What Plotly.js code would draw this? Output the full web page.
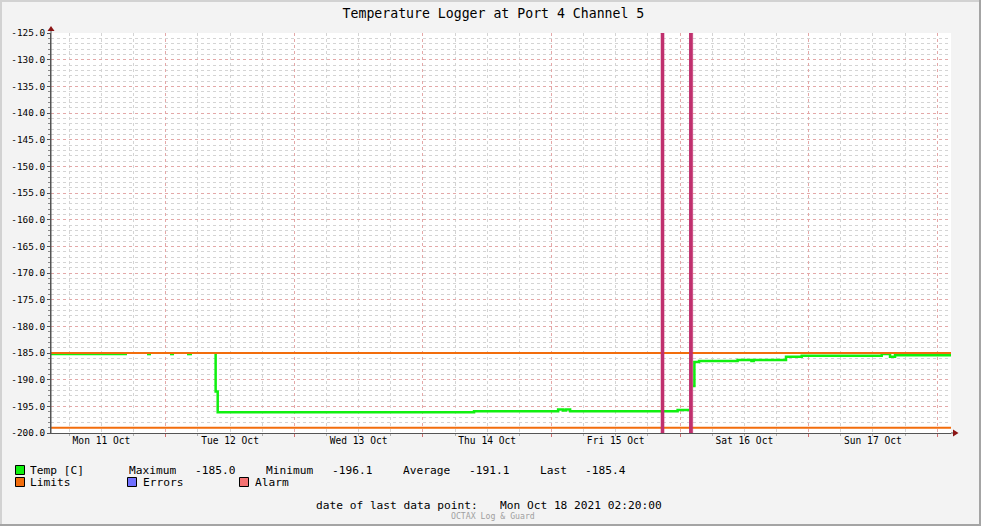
<!DOCTYPE html>
<html>
<head>
<meta charset="utf-8">
<script src="https://cdn.plot.ly/plotly-3.0.1.min.js"></script>
<style>html,body{margin:0;padding:0;background:#F3F3F3;}#chart{width:981px;height:526px;}</style>
</head>
<body>
<div id="chart"></div>
<script>
// ---- data ----
const xStart = '2021-10-11 02:35';
const xEnd = '2021-10-18 02:35';
const tempTime = [
  '2021-10-11 02:35','2021-10-11 16:46','2021-10-11 16:50',
  '2021-10-11 20:30','2021-10-11 21:15','2021-10-11 21:20',
  '2021-10-12 00:48','2021-10-12 01:33','2021-10-12 01:40',
  '2021-10-12 03:58','2021-10-12 04:54','2021-10-12 05:00',
  '2021-10-12 09:10','2021-10-12 09:19','2021-10-12 09:42',
  '2021-10-14 09:33','2021-10-15 01:15','2021-10-15 02:10','2021-10-15 02:40','2021-10-15 03:29',
  '2021-10-15 23:33','2021-10-16 01:41','2021-10-16 01:45',
  '2021-10-16 02:25','2021-10-16 02:41','2021-10-16 03:33','2021-10-16 10:45',
  '2021-10-16 13:20','2021-10-16 13:45','2021-10-16 19:47','2021-10-16 22:43',
  '2021-10-17 13:39','2021-10-17 15:12','2021-10-17 16:08','2021-10-18 02:35'
];
const tempValue = [
  -185.2,-185.2,null,
  -185.2,-185.2,null,
  -185.2,-185.2,null,
  -185.2,-185.2,null,
  -185.1,-192.2,-196.1,
  -195.9,-195.6,-195.8,-195.6,-195.9,
  -195.7,-195.7,null,
  -191.2,-186.7,-186.5,-186.3,
  -186.5,-186.3,-185.7,-185.5,
  -185.2,-185.7,-185.4,-185.4
];
const limitHigh = -185;
const limitLow = -199;
const alarmStart = ['2021-10-15 20:24','2021-10-16 01:41'];
const alarmEnd   = ['2021-10-15 21:01','2021-10-16 02:22'];
const dayNoon = ['2021-10-11 12:00','2021-10-12 12:00','2021-10-13 12:00','2021-10-14 12:00','2021-10-15 12:00','2021-10-16 12:00','2021-10-17 12:00'];
const dayLabels = ['Mon 11 Oct','Tue 12 Oct','Wed 13 Oct','Thu 14 Oct','Fri 15 Oct','Sat 16 Oct','Sun 17 Oct'];
const yTickVals = [-200,-195,-190,-185,-180,-175,-170,-165,-160,-155,-150,-145,-140,-135,-130,-125];
const yTickText = ['-200.0','-195.0','-190.0','-185.0','-180.0','-175.0','-170.0','-165.0','-160.0','-155.0','-150.0','-145.0','-140.0','-135.0','-130.0','-125.0'];
const statLabels = ['Maximum','Minimum','Average','Last'];
const statValues = ['-185.0','-196.1','-191.1','-185.4'];
const legendNames = ['Temp [C]','Limits','Errors','Alarm'];
const lastDataText = 'date of last data point:';
const lastDataDate = 'Mon Oct 18 2021 02:20:00';

// ---- styling / layout helpers ----
const MONO = 'DejaVu Sans Mono';
const PL = 51, PT = 33, PW = 900, PH = 400;
const X = px => (px - PL) / PW;
const Y = py => (PT + PH - py) / PH;
const GREEN = '#10F010', ORANGE = '#F26D0C', BLUE = '#7070FF', PINK = '#F47272', MAG = '#C0306E';

const traces = [];
traces.push({x: tempTime, y: tempValue, mode: 'lines', line: {shape: 'hv', color: GREEN, width: 2.5},
  connectgaps: false, name: legendNames[0], hoverinfo: 'skip'});
[limitHigh, limitLow].forEach(v => traces.push({x: [xStart, xEnd], y: [v, v], mode: 'lines',
  line: {color: ORANGE, width: 2}, name: legendNames[1], hoverinfo: 'skip'}));
for (let i = 0; i < alarmStart.length; i++) {
  traces.push({x: [alarmStart[i], alarmEnd[i], alarmEnd[i], alarmStart[i]],
    y: [yTickVals[0], yTickVals[0], yTickVals[yTickVals.length-1], yTickVals[yTickVals.length-1]],
    mode: 'lines', fill: 'toself', fillcolor: MAG, line: {color: MAG, width: 0.5}, name: legendNames[3], hoverinfo: 'skip'});
}
traces.push({x: [xStart, xEnd], y: [null, null], xaxis: 'x2', mode: 'lines', hoverinfo: 'skip', showlegend: false});

const shapes = [];
const rectPx = (x0, y0, x1, y1, fill, line) => shapes.push({type: 'rect', xref: 'paper', yref: 'paper',
  x0: X(x0), x1: X(x1), y0: Y(y0), y1: Y(y1), fillcolor: fill,
  line: line ? {color: line, width: 1} : {width: 0}, layer: 'above'});
const pathPx = (pts, fill) => shapes.push({type: 'path', xref: 'paper', yref: 'paper',
  path: 'M' + pts.map(p => X(p[0]) + ',' + Y(p[1])).join('L') + 'Z', fillcolor: fill, line: {width: 0}, layer: 'above'});
const linePx = (x0, y0, x1, y1, col) => shapes.push({type: 'line', xref: 'paper', yref: 'paper',
  x0: X(x0), x1: X(x1), y0: Y(y0), y1: Y(y1), line: {color: col, width: 1}, layer: 'above'});

// frame
rectPx(0, 0, 981, 2, '#D2D2D2');
rectPx(0, 0, 2, 526, '#D2D2D2');
rectPx(0, 524, 981, 526, '#A4A4A4');
rectPx(979, 0, 981, 526, '#A4A4A4');
// axis extensions and arrows
linePx(51, 433, 51, 30, '#555555');
linePx(951, 433, 954, 433, '#555555');
pathPx([[47.5, 31], [54.5, 31], [51, 26]], '#8B1414');
pathPx([[953, 429.5], [953, 436.5], [958.5, 433]], '#8B1414');
// legend squares
rectPx(15.5, 465.5, 24.5, 474.5, GREEN, '#000');
rectPx(15.5, 477.5, 24.5, 486.5, ORANGE, '#000');
rectPx(127.5, 477.5, 136.5, 486.5, BLUE, '#000');
rectPx(239.5, 477.5, 248.5, 486.5, PINK, '#000');

const annotations = [];
const txt = (px, py, text, size, color) => annotations.push({xref: 'paper', yref: 'paper', x: X(px), y: Y(py),
  xanchor: 'left', yanchor: 'middle', text: text, showarrow: false, borderpad: 0, height: 11,
  font: {family: MONO, size: size || 11.2, color: color || '#000'}});
txt(29, 470, legendNames[0]);
const statX = [[127.5, 193.5], [265, 330.5], [402, 467.5], [539, 583.5]];
for (let i = 0; i < statLabels.length; i++) {
  txt(statX[i][0], 470, statLabels[i]);
  txt(statX[i][1], 470, statValues[i]);
}
txt(29, 482, legendNames[1]);
txt(141.5, 482, legendNames[2]);
txt(254, 482, legendNames[3]);
txt(315, 505.5, lastDataText);
txt(498.5, 505.5, lastDataDate);
txt(450, 515.5, 'OCTAX Log &amp; Guard', 8.2, '#A0A0A0');

const layout = {
  width: 981, height: 526,
  paper_bgcolor: '#F3F3F3', plot_bgcolor: '#FFFFFF',
  margin: {l: 51, r: 30, t: 33, b: 93, autoexpand: false},
  showlegend: false,
  title: {text: 'Temperature Logger at Port 4 Channel 5', font: {family: MONO, size: 13.2, color: '#000'},
    x: 0.503, xanchor: 'center', y: 1 - 13.5/526, yanchor: 'middle', xref: 'container', yref: 'container'},
  xaxis: {type: 'date', range: [xStart, xEnd], tick0: '2021-10-11', dtick: 86400000,
    showticklabels: false, showgrid: true, gridcolor: '#E4A8A8', griddash: 'dot', gridwidth: 1,
    ticks: 'outside', ticklen: 3, tickcolor: '#D07070', zeroline: false,
    showline: true, linecolor: '#555555', linewidth: 1,
    minor: {tick0: '2021-10-11', dtick: 21600000, showgrid: true, gridcolor: '#D4D4D4', griddash: 'dot', gridwidth: 1,
      ticks: 'outside', ticklen: 2, tickcolor: '#B0B0B0'}},
  xaxis2: {type: 'date', range: [xStart, xEnd], overlaying: 'x', anchor: 'y', side: 'bottom',
    tickmode: 'array', tickvals: dayNoon, ticktext: dayLabels, showgrid: false, showline: false, zeroline: false,
    ticks: '', tickfont: {family: MONO, size: 9.6, color: '#000'}},
  yaxis: {range: [-200, -125], tickmode: 'array', tickvals: yTickVals, ticktext: yTickText,
    showgrid: true, gridcolor: '#E4A8A8', griddash: 'dot', gridwidth: 1, zeroline: false,
    showline: true, linecolor: '#555555', linewidth: 1,
    ticks: 'outside', ticklen: 3, tickcolor: '#555555',
    tickfont: {family: MONO, size: 9.4, color: '#000'},
    minor: {dtick: 1, tick0: -200, showgrid: true, gridcolor: '#D4D4D4', griddash: 'dot', gridwidth: 1,
      ticks: 'outside', ticklen: 2, tickcolor: '#888888'}},
  shapes: shapes,
  annotations: annotations
};

Plotly.newPlot('chart', traces, layout, {staticPlot: true, displayModeBar: false});
</script>
</body>
</html>
